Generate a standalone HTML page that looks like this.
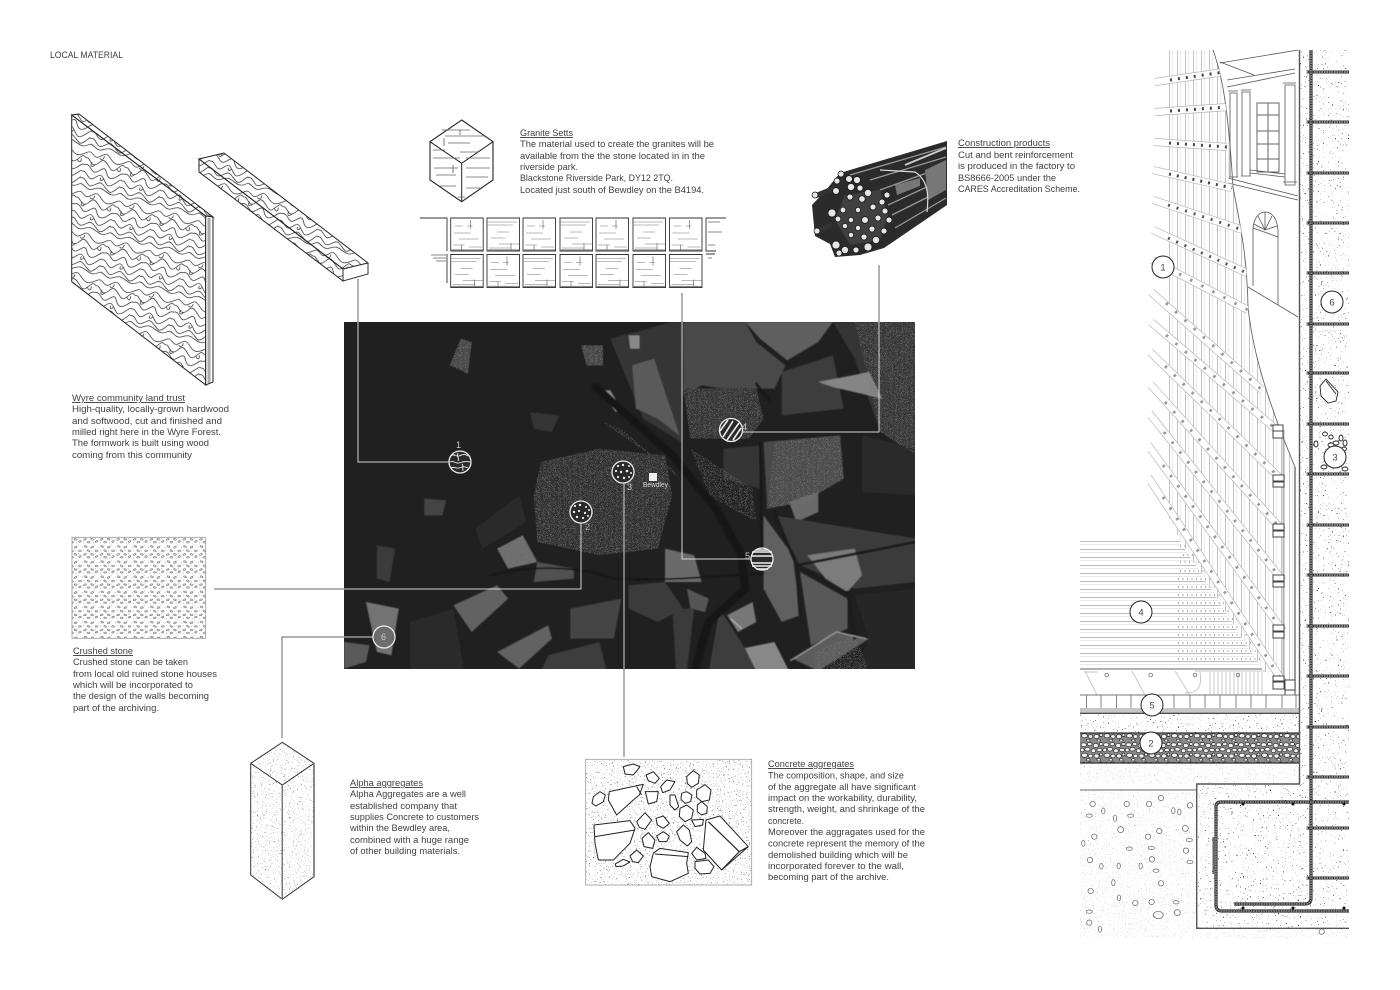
<!DOCTYPE html>
<html><head><meta charset="utf-8"><title>Local material</title>
<style>
html,body{margin:0;padding:0;background:#fff}
svg{display:block}
text{font-family:"Liberation Sans",Arial,sans-serif;font-size:9.4px;fill:#404040}
.h{text-decoration:underline}
</style></head><body>
<svg width="1400" height="990" viewBox="0 0 1400 990" xmlns="http://www.w3.org/2000/svg">
<defs>
<filter id="st" x="0" y="0" width="100%" height="100%" color-interpolation-filters="sRGB"><feTurbulence type="fractalNoise" baseFrequency=".75" numOctaves="2" seed="4"/><feColorMatrix values="0 0 0 0 0 0 0 0 0 0 0 0 0 0 0 16 0 0 0 -10.900"/><feComposite in2="SourceGraphic" operator="in"/></filter>
<filter id="st2" x="0" y="0" width="100%" height="100%" color-interpolation-filters="sRGB"><feTurbulence type="fractalNoise" baseFrequency=".6" numOctaves="2" seed="9"/><feColorMatrix values="0 0 0 0 0 0 0 0 0 0 0 0 0 0 0 18 0 0 0 -13"/><feComposite in2="SourceGraphic" operator="in"/></filter>
<filter id="sp" x="0" y="0" width="100%" height="100%" color-interpolation-filters="sRGB"><feTurbulence type="fractalNoise" baseFrequency=".8 .9" numOctaves="2" seed="12"/><feColorMatrix values="0 0 0 0 1 0 0 0 0 1 0 0 0 0 1 7 0 0 0 -3.800"/><feComposite in="SourceGraphic" operator="in"/></filter>
<filter id="bl" x="-5%" y="-5%" width="110%" height="110%"><feGaussianBlur stdDeviation="1.800"/></filter>
<pattern id="wood" width="70" height="70" patternUnits="userSpaceOnUse" patternTransform="rotate(14) scale(.58)">
<g fill="none" stroke="#222" stroke-width="1.200">
<path d="M0 8C8 2 12 16 20 12S30-2 40 8 55 20 70 8"/>
<path d="M0 18C6 14 10 30 18 26S26 10 36 18 48 34 56 24 64 14 70 18"/>
<path d="M0 30C10 24 14 42 22 38S34 22 40 34 52 44 60 36 66 30 70 30"/>
<path d="M0 42C6 38 12 56 20 50S30 36 38 46 48 60 58 50 66 40 70 42"/>
<path d="M0 54C8 48 12 68 22 62S32 50 42 58 54 70 62 60 68 52 70 54"/>
<path d="M0 64C6 60 14 74 24 68S36 62 46 66 60 72 70 64"/>
<path d="M18 26c-5 7-9 4-6-3M56 24c4 6 8 4 6-3M38 46c-3 6-7 5-5-1M30 8c0 6-4 8-7 5"/>
</g></pattern>
<pattern id="crush" width="23" height="21" patternUnits="userSpaceOnUse" patternTransform="scale(.72)">
<g fill="#fff" stroke="#666" stroke-width=".85">
<ellipse cx="4" cy="3" rx="2" ry="1" transform="rotate(20 4 3)"/><ellipse cx="13" cy="4" rx="2" ry="1" transform="rotate(-25 13 4)"/><ellipse cx="19" cy="9" rx="2" ry="1"/><ellipse cx="8" cy="9" rx="2" ry="1" transform="rotate(30 8 9)"/><ellipse cx="3" cy="14" rx="2" ry="1" transform="rotate(-20 3 14)"/><ellipse cx="13" cy="14" rx="2" ry="1" transform="rotate(15 13 14)"/><ellipse cx="19" cy="17" rx="1.800" ry="1" transform="rotate(-30 19 17)"/><ellipse cx="8" cy="18" rx="2" ry="1"/></g>
<path d="M1 8h1M16 1h1M22 4h1M12 9h1M17 13h1M1 19h1M14 19h1" stroke="#666" stroke-width=".8"/></pattern>
<pattern id="gravel" width="30" height="26" patternUnits="userSpaceOnUse" patternTransform="scale(.75)">
<rect width="30" height="26" fill="#8a8a8a"/>
<g fill="#f2f2f2" stroke="#222" stroke-width=".9">
<ellipse cx="5" cy="5" rx="3.600" ry="2.600"/><ellipse cx="13" cy="4" rx="3" ry="2.200"/><ellipse cx="21" cy="6" rx="3.400" ry="2.800"/><ellipse cx="28" cy="4" rx="2.400" ry="2"/><ellipse cx="3" cy="12" rx="2.600" ry="2.400"/><ellipse cx="10" cy="11" rx="3.500" ry="2.400"/><ellipse cx="18" cy="13" rx="3" ry="2.600"/><ellipse cx="26" cy="12" rx="3.400" ry="2.300"/><ellipse cx="6" cy="19" rx="4" ry="2.800"/><ellipse cx="14" cy="20" rx="3" ry="2.400"/><ellipse cx="22" cy="20" rx="3.400" ry="2.800"/><ellipse cx="28" cy="18" rx="2" ry="2"/><ellipse cx="11" cy="25" rx="2.400" ry="1.400"/><ellipse cx="25" cy="25" rx="2.400" ry="1.400"/></g></pattern>
<pattern id="boards" width="8" height="10" patternUnits="userSpaceOnUse" patternTransform="translate(1169 0)"><path d="M.5 0V10" stroke="#bdbdbd" stroke-width=".9"/><path d="M3.500 0V10" stroke="#e6e6e6" stroke-width=".8"/></pattern>
<pattern id="floor" width="10" height="8" patternUnits="userSpaceOnUse" patternTransform="translate(0 541)"><path d="M0 .5H10" stroke="#bcbcbc" stroke-width="1"/><path d="M0 3.400H10" stroke="#e2e2e2" stroke-width=".8"/></pattern>
<g id="sett"><path d="M0 0H32.500V33H0Z" fill="#fff" stroke="#333" stroke-width=".9"/><path d="M4 8H12M16 8H22M3 15H20M8 21H28M2 27H14M18 29H31" stroke="#777" stroke-width=".6" fill="none"/><path d="M0 32H32" stroke="#888" stroke-width="1.200"/><path d="M20 2V11M11 27V32" stroke="#555" stroke-width=".6"/></g>
<g id="sett2"><path d="M0 0H32.500V33H0Z" fill="#fff" stroke="#333" stroke-width=".9"/><path d="M0 4H30M0 7H26M10 14H22M4 20H18M12 26H32M2 30H24" stroke="#777" stroke-width=".6" fill="none"/><path d="M0 32H32" stroke="#888" stroke-width="1.200"/><path d="M24 25V32" stroke="#555" stroke-width=".6"/></g>
<clipPath id="mapc"><rect x="344" y="322" width="571" height="347"/></clipPath>
<clipPath id="bc"><path d="M1167 50H1213C1222 75 1228 105 1233 187C1240 225 1247 253 1248 307C1252 345 1263 390 1295 467V690H1287L1262 669L1180 540L1150 480V60Z"/></clipPath>
<clipPath id="bb"><path d="M1148 50H1213C1222 75 1228 105 1233 187C1240 225 1247 253 1248 307C1252 345 1263 390 1295 467V690H1262L1180 540L1148 490Z"/></clipPath>
</defs>
<rect width="1400" height="990" fill="#fff"/>

<!-- map -->
<g clip-path="url(#mapc)">
<rect x="344" y="322" width="571" height="347" fill="#202020"/>
<g transform="translate(344 322) scale(.3648 .3333)">
<g filter="url(#bl)">
<path d="M930 0H1100L1130 60L1210 130L1180 200H1040L980 190L930 220Z" fill="#484848"/>
<path d="M1100 0H1340L1300 60L1215 115L1140 50Z" fill="#5f5f5f"/>
<path d="M1200 150L1340 100L1370 260L1200 280Z" fill="#3d3d3d"/>
<path d="M1340 0H1568V400L1470 330L1400 110Z" fill="#343434"/>
<path d="M1300 180L1440 150L1475 230L1340 195Z" fill="#858585"/>
<path d="M730 50L900 0H930L925 360L820 290L760 130Z" fill="#363636"/>
<path d="M790 130L850 110L880 210L920 340L860 290L800 260Z" fill="#5a5a5a"/>
<path d="M700 205L730 205L760 260L745 270Z" fill="#8a8a8a"/>
<path d="M780 40L810 40L810 80L785 80Z" fill="#888"/>
<path d="M540 420L700 380L880 400L900 520L860 680L700 700L530 660L520 520Z" fill="#2e2e2e"/>
<path d="M930 200H1130L1150 290L1110 350L950 350Z" fill="#303030"/>
<path d="M1040 380L1140 370L1140 500L1040 470Z" fill="#343434"/>
<path d="M1150 360L1360 340L1370 470L1260 540L1160 560Z" fill="#484848"/>
<path d="M1220 540L1300 510L1300 570L1240 600Z" fill="#6a6a6a"/>
<path d="M1420 340L1568 380V520L1420 510Z" fill="#2b2b2b"/>
<path d="M1150 580L1230 700L1250 880L1200 900L1150 800Z" fill="#606060"/>
<path d="M1180 580L1568 650V780L1400 800L1250 730Z" fill="#3a3a3a"/>
<path d="M1270 700L1400 680L1420 760L1380 810L1320 770Z" fill="#7c7c7c"/>
<path d="M1250 750L1380 830L1380 920L1280 970Z" fill="#585858"/>
<path d="M1400 820L1568 800V1047H1400L1440 950Z" fill="#262626"/>
<path d="M1050 880L1120 840L1130 900L1080 930Z" fill="#777"/>
<path d="M1090 980L1180 960L1220 1047H1130Z" fill="#888"/>
<path d="M1230 1010L1350 930L1440 950L1300 1047Z" fill="#5c5c5c"/>
<path d="M1030 860L1100 980L1130 1047H1000Z" fill="#3e3e3e"/>
<path d="M940 800L1000 830L990 870L950 860Z" fill="#555"/>
<path d="M880 680L960 700L980 780L880 780Z" fill="#6a6a6a"/>
<path d="M780 790L880 780L930 860L860 900L780 860Z" fill="#3b3b3b"/>
<path d="M620 860L760 830L740 950L620 950Z" fill="#444"/>
<path d="M900 860H960L940 1047H910Z" fill="#3a3a3a"/>
<path d="M300 850L420 790L450 830L350 930Z" fill="#626262"/>
<path d="M420 990L560 910L570 950L480 1040Z" fill="#626262"/>
<path d="M420 680L490 640L530 720L450 740Z" fill="#6d6d6d"/>
<path d="M530 720L630 740L630 770L520 780Z" fill="#515151"/>
<path d="M60 840L150 860L130 1000L90 990Z" fill="#737373"/>
<path d="M0 960L70 970L60 1020L0 1040Z" fill="#5a5a5a"/>
<path d="M180 900L300 860L330 1047H180Z" fill="#2a2a2a"/>
<path d="M560 1000L700 960L720 1047H540Z" fill="#3c3c3c"/>
<path d="M290 130L320 50L350 60L340 155Z" fill="#444"/>
<path d="M650 70L710 70L710 130L665 130Z" fill="#444"/>
<path d="M510 270L590 280L570 330L520 320Z" fill="#363636"/>
<path d="M90 670L140 680L125 780L90 770Z" fill="#3a3a3a"/>
<path d="M220 530L280 535L270 580L220 580Z" fill="#444"/>
<path d="M360 620L480 520L500 600L380 680Z" fill="#2b2b2b"/>
<g fill="none" stroke-linecap="round">
<path d="M690 195L900 400L1020 560L1090 700L1100 800L1000 900L960 1047" stroke="#171717" stroke-width="22"/>
<path d="M400 760C500 730 640 730 740 770C860 780 1050 760 1150 755" stroke="#171717" stroke-width="5"/>
<path d="M1140 360L1145 680" stroke="#191919" stroke-width="5"/>
<path d="M1180 570L1240 730L1250 880M1240 730L1390 820M1240 730L1568 660M1380 810L1400 950" stroke="#1b1b1b" stroke-width="8"/>
<path d="M1225 1015L1350 930L1430 950" stroke="#999" stroke-width="4"/>
<path d="M1060 890L1090 920" stroke="#bbb" stroke-width="3"/>
<path d="M1168 240L1130 185" stroke="#161616" stroke-width="7"/>
</g>
</g>
<g filter="url(#sp)" fill="#7a7a7a">
<path d="M540 420L700 380L880 400L900 520L860 680L700 700L530 660L520 520Z"/>
<path d="M930 200H1130L1150 290L1110 350L950 350Z"/>
<path d="M950 380L1120 500L1130 600L1000 520Z"/>
<path d="M710 300L760 320L920 470L900 440L800 370Z"/>
<path d="M1400 0H1568V400L1470 330Z"/>
<path d="M1180 360L1360 340L1370 470L1260 540L1160 560Z"/>
<path d="M290 130L320 50L350 60L340 155Z"/>
<path d="M650 70L710 70L710 130L665 130Z"/>
<path d="M420 680L490 640L530 720L450 740Z"/>
<path d="M1290 990L1400 940L1440 1047H1290Z"/>
</g>
</g>
<g fill="none" stroke="#d5d5d5" stroke-width="1">
<path d="M358 322V462H449"/><path d="M344 589H581V523"/><path d="M624 483V669"/><path d="M879 322V432H743"/><path d="M682 322V559H751"/><path d="M344 637H373"/>
</g>
</g>
<g fill="none" stroke="#666" stroke-width="1">
<path d="M358 279V322"/><path d="M214 589H344"/><path d="M624 669V757"/><path d="M879 265V322"/><path d="M682 293V322"/><path d="M282 738V637H344"/>
</g>

<!-- map markers -->
<g stroke="#eee" stroke-width="1.300" fill="#2a2a2a">
<circle cx="460" cy="462" r="11"/><circle cx="581" cy="512" r="11"/><circle cx="623" cy="472" r="11"/><circle cx="731" cy="430" r="11.500"/><circle cx="762" cy="559" r="11"/><circle cx="384" cy="637" r="11" fill="#555" fill-opacity=".2"/>
</g>
<g fill="none" stroke="#eee" stroke-width=".9">
<path d="M451 456c3-3 5 1 8 0s5-3 9 0M450 462c4-2 6 2 9 1s6-2 11-1M451 468c3-2 5 1 8 0s5-2 9 0M458 453c-2 4 2 5 0 8M462 464c2 2 0 4 1 7"/>
<path d="M723 437L733 421M727 440L739 423M733 440L741 428M720 431L728 420" stroke-width="1.600"/>
<path d="M752 552H772M751 556H773M752 566H772M751 563H773M756 550H768M756 569H768" stroke-width="1.400"/>
</g>
<g fill="#eee">
<circle cx="575" cy="506" r="1.100"/><circle cx="580" cy="505" r="1.200"/><circle cx="586" cy="507" r="1"/><circle cx="574" cy="512" r="1.200"/><circle cx="579" cy="511" r="1.100"/><circle cx="585" cy="513" r="1.200"/><circle cx="589" cy="510" r="1"/><circle cx="577" cy="517" r="1.200"/><circle cx="583" cy="518" r="1.100"/><circle cx="588" cy="516" r="1"/>
<circle cx="618" cy="466" r="1.100"/><circle cx="623" cy="465" r="1.200"/><circle cx="629" cy="466" r="1"/><circle cx="616" cy="471" r="1.100"/><circle cx="621" cy="472" r="1.200"/><circle cx="627" cy="471" r="1.300"/><circle cx="631" cy="473" r="1"/><circle cx="618" cy="477" r="1.100"/><circle cx="624" cy="478" r="1.200"/><circle cx="629" cy="477" r="1"/>
<rect x="649" y="473" width="8" height="8"/>
</g>
<text x="456" y="448" style="font-size:9px;fill:#ccc">1</text>
<text x="585" y="530" style="font-size:9px;fill:#aaa">2</text>
<text x="627" y="490" style="font-size:9px;fill:#ccc">3</text>
<text x="742" y="430" style="font-size:9px;fill:#ccc">4</text>
<text x="745" y="559" style="font-size:9px;fill:#ccc">5</text>
<text x="381" y="640" style="font-size:9px;fill:#ccc">6</text>
<text x="643" y="487" textLength="25" lengthAdjust="spacingAndGlyphs" style="font-size:7px;fill:#ddd">Bewdley</text>

<!-- timber panel -->
<path d="M71.700 115L79 114L213 217L205.700 216Z" fill="url(#wood)" stroke="#222"/>
<path d="M71.700 115L205.700 216V385L71.700 281.700Z" fill="url(#wood)" stroke="#222"/>
<path d="M205.700 216L213 217V382L205.700 385Z" fill="#fff" stroke="#222"/>
<path d="M209 218V383" stroke="#aaa" stroke-width="3"/>
<path d="M199 159L224 153L368 263L343 269Z" fill="url(#wood)" stroke="#222"/>
<path d="M199 159V172L343 281V269Z" fill="url(#wood)" stroke="#222"/>
<path d="M343 269L368 263V274L343 281Z" fill="#fff" stroke="#333"/>

<!-- granite -->
<path d="M461.700 120L493 141.700V180L461.700 201.700L430 180V141.700Z" fill="#fff" stroke="#222" stroke-width="1.100"/>
<path d="M430 141.700L461.700 163.300L493 141.700M461.700 163.300V201.700" fill="none" stroke="#222" stroke-width="1"/>
<path d="M445 136H485M448 143H470M442 130H470M460 152H478M433 150H445M433 158H460M466 158H490M434 168H458M466 168H490M436 175H456M466 177H488M440 186H456M466 188H480M458 197H465" stroke="#666" stroke-width=".7"/>
<path d="M460 130V135M444 138V146M453 165V173" stroke="#444" stroke-width=".7"/>
<path d="M420 218H447V251M447 254V283M706 218H726M706 218V251H716M706 254H715" fill="none" stroke="#333" stroke-width=".9"/>
<path d="M431 255H446M433 258H446M436 261H446M708 222H720M708 232H722M708 245H715M708 258H712" stroke="#888" stroke-width="1"/>
<use href="#sett" x="450.700" y="218"/><use href="#sett2" x="487" y="218"/><use href="#sett" x="523" y="218"/><use href="#sett2" x="560" y="218"/><use href="#sett" x="596" y="218"/><use href="#sett2" x="633" y="218"/><use href="#sett" x="669.500" y="218"/>
<use href="#sett2" x="450.700" y="254.500"/><use href="#sett" x="487" y="254.500"/><use href="#sett2" x="523" y="254.500"/><use href="#sett" x="560" y="254.500"/><use href="#sett2" x="596" y="254.500"/><use href="#sett" x="633" y="254.500"/><use href="#sett2" x="669.500" y="254.500"/>

<!-- rebar bundle -->
<path d="M840 173L947 141V205L884 248L860 255L835 257L830 244L815 236L812 205L826 190Z" fill="#2b2b2b"/>
<g stroke="#999" stroke-width="1.300" fill="none"><path d="M850 175L946 147M870 180L946 157M880 190L946 166M888 205L946 178M892 215L946 188M895 228L946 198"/></g>
<path d="M925 170L946 160L946 190L928 200ZM895 185L920 178L920 186L897 195Z" fill="#777"/>
<path d="M880 170L915 172C928 180 929 195 927 212" fill="none" stroke="#ddd" stroke-width="1.200"/>
<path d="M905 165L946 148" stroke="#ccc" stroke-width="2"/>
<path d="M815 196L835 188M817 232L832 224" stroke="#333" stroke-width="5"/>
<path d="M845 195L880 190L888 215L880 240L850 245L835 220Z" fill="#404040"/>
<g fill="#e6e6e6" stroke="#111" stroke-width=".7">
<circle cx="815" cy="195" r="3"/><circle cx="817" cy="231" r="3"/><circle cx="841" cy="174" r="3"/><circle cx="837" cy="181" r="3"/><circle cx="849" cy="179" r="3.400"/><circle cx="857" cy="180" r="3.500"/><circle cx="836" cy="191" r="3.400"/><circle cx="851" cy="187" r="3.600"/><circle cx="860" cy="188" r="3"/><circle cx="868" cy="193" r="3.600"/><circle cx="887" cy="195" r="3"/><circle cx="850" cy="197" r="3"/><circle cx="862" cy="199" r="3.200"/><circle cx="882" cy="202" r="3"/><circle cx="832" cy="213" r="4"/><circle cx="843" cy="210" r="2.800"/><circle cx="858" cy="210" r="2.600"/><circle cx="873" cy="207" r="3"/><circle cx="885" cy="211" r="3"/><circle cx="838" cy="219" r="2.800"/><circle cx="851" cy="220" r="2.600"/><circle cx="865" cy="220" r="3.400"/><circle cx="878" cy="218" r="3"/><circle cx="889" cy="220" r="3"/><circle cx="845" cy="226" r="2.600"/><circle cx="858" cy="228" r="2.600"/><circle cx="872" cy="229" r="3"/><circle cx="884" cy="231" r="3"/><circle cx="851" cy="235" r="2.600"/><circle cx="864" cy="237" r="3"/><circle cx="876" cy="240" r="3.600"/><circle cx="836" cy="245" r="4"/><circle cx="845" cy="250" r="3.600"/><circle cx="856" cy="250" r="3"/><circle cx="868" cy="247" r="4"/><circle cx="839" cy="253" r="3"/></g>

<!-- crushed stone -->
<rect x="72" y="537.300" width="133.700" height="101" fill="url(#crush)" stroke="#999" stroke-width=".8"/>

<!-- concrete aggregates -->
<rect x="585.700" y="759.300" width="166" height="125.700" fill="#fff" stroke="#999" stroke-width=".8"/>
<rect x="586" y="760" width="165" height="125" fill="#222" filter="url(#st)" opacity=".65"/>
<g transform="translate(580 750) scale(.3333)" fill="#fff" stroke="#222" stroke-width="3" stroke-linejoin="round">
<path d="M88 125L190 103L178 135L160 150L110 195L85 150Z"/><path d="M170 110L185 135" fill="none"/>
<path d="M42 225L150 212L165 235L150 280L100 330L55 330L45 280Z"/><path d="M45 260L165 240" fill="none"/>
<path d="M220 310L240 295L325 308L320 340L325 370L270 395L215 380L210 350Z"/><path d="M225 312L325 320" fill="none"/>
<path d="M378 210L420 198L505 290L425 360L370 300Z"/><path d="M385 215L478 305L425 360M478 305L505 290" fill="none" stroke-width="3.500"/>
<path d="M130 50L160 42L180 50L160 75L135 72Z"/><path d="M198 75L220 65L238 85L225 100L205 92Z"/><path d="M320 80L340 62L358 75L355 100L335 112L322 100Z"/><path d="M242 110L260 90L285 95L270 120L248 128Z"/><path d="M40 140L60 125L76 135L70 155L48 168L36 160Z"/><path d="M196 125H235L230 155L205 162Z"/><path d="M270 135L285 135L296 170L285 180L270 165Z"/><path d="M305 130L320 125L336 135L332 155L315 160L303 148Z"/><path d="M350 120L375 104L393 120L388 150L365 155L350 142Z"/><path d="M300 175L320 165L340 180L335 205L315 215L298 200Z"/><path d="M352 165L365 155L382 170L380 190L365 195L352 185Z"/><path d="M170 215L195 188L215 210L195 238L178 232Z"/><path d="M228 205L250 198L268 220L250 235L232 225Z"/><path d="M335 210L370 208L368 225L345 230Z"/><path d="M290 245L310 225L328 240L335 275L322 288L300 270Z"/><path d="M186 265L205 248L225 270L218 295L192 290Z"/><path d="M230 258L250 245L268 258L260 275L238 275Z"/><path d="M150 318L170 300L190 318L175 338L158 335Z"/><path d="M106 342L130 328L150 336L130 348L108 350Z"/><path d="M335 310L350 292L375 310L378 325L350 330Z"/><path d="M345 335L385 330L402 350L390 370L360 372L345 355Z"/>
</g>

<!-- alpha column -->
<path d="M282.300 742.300L314 763.300V876.700L282.300 899.300L250.700 875V763.300Z" fill="#fff"/>
<rect x="251" y="743" width="63" height="156" fill="#555" filter="url(#st)" opacity=".55" clip-path="polygon(50% 0,100% 13%,100% 85%,50% 100%,0 85%,0 13%)"/>
<path d="M282.300 742.300L314 763.300V876.700L282.300 899.300L250.700 875V763.300ZM250.700 763.300L282.300 785L314 763.300M282.300 785V899.300" fill="none" stroke="#333" stroke-width="1"/>
<path d="M314 763.300V876.700" stroke="#888" stroke-width="2"/>
<path d="M282.300 785V899.300" stroke="#777" stroke-width="1.400"/>

<!-- right section: building -->
<g fill="none" stroke="#555" stroke-width=".8">
<path d="M1220 63L1298 50M1227 80L1295 69M1227 87L1295 73M1220 62L1254 75"/>
<path d="M1230 93H1237V177H1230ZM1242 92H1250V176H1242ZM1285 85H1295V185H1285ZM1228 91H1238M1241 90H1251M1283 83H1296M1229 177H1238M1241 176H1251M1283 182H1297"/>
<path d="M1257 103H1279V172H1257ZM1268 103V172M1257 115H1279M1257 131H1279M1257 144H1279M1257 159H1279" stroke="#666" stroke-width="1"/>
<path d="M1250 170L1285 174M1250 173L1285 177M1228 178L1298 196M1228 183L1298 200"/>
<path d="M1253 286V228C1254 218 1259 212 1265 212C1272 212 1277 218 1278 230V305M1253 228L1278 237M1265 212V230M1258 216L1265 230L1272 216M1254 224L1265 230L1277 226"/>
<path d="M1248 287L1298 317"/>
</g>
<rect x="1169" y="50" width="130" height="640" fill="url(#boards)" clip-path="url(#bc)"/>
<path d="M1295 467V690" stroke="#555" stroke-width="1.200"/>
<path d="M1283.500 430V682" stroke="#b5b5b5" stroke-width="2"/>
<path d="M1213 50C1222 75 1228 105 1233 187C1240 225 1247 253 1248 307C1252 345 1263 390 1295 467" fill="none" stroke="#666" stroke-width=".9"/>

<!-- floor -->
<path d="M1080 541H1180L1261.700 669H1080Z" fill="url(#floor)"/>
<g stroke="#b0b0b0"><path d="M1180 546H1190M1183 555H1198M1180 562H1203M1180 571H1210M1178 579H1215M1178 587H1220M1178 595H1226M1178 603H1232M1178 611H1237M1178 619H1242M1178 627H1246M1178 635H1250M1178 643H1254M1178 651H1258M1178 659H1260" stroke-dasharray="1 3.500" stroke-width="2"/></g>
<path d="M1080 669H1262" stroke="#666" stroke-width="1.100"/>
<g fill="none" stroke="#c4c4c4" stroke-width=".9"><path d="M1085 671L1097 695M1132 671L1145 695M1175 671L1190 695M1084 672H1098M1200 672C1203 690 1195 693 1185 693M1195 671H1266M1210 672V695M1214 672V695M1218 672V695M1222 672V695M1226 672V695M1230 672V695M1234 672V695M1238 672V695M1242 672V695M1246 672V695M1250 672V695M1254 672V695M1258 672V695M1262 672V695"/></g>
<g fill="none" stroke="#555" stroke-width=".7"><circle cx="1106.700" cy="675" r="1.800"/><circle cx="1150.700" cy="675" r="1.800"/><circle cx="1195" cy="675" r="1.800"/><circle cx="1238" cy="675" r="1.800"/></g>

<!-- battens -->
<g fill="none" clip-path="url(#bb)">
<g stroke="#b5b5b5" stroke-width="8">
<path d="M1155 82L1224 72M1155 112L1228 107M1154 142L1227 147M1153 170L1232 188M1153 200L1243 230M1153 230L1247 273M1152 260L1248 310M1151 292L1262 390M1151 322L1278 431M1150 352L1283 481M1150 384L1283 531M1149 413L1283 581M1148 445L1283 631M1148 477L1283 682"/>
</g>
<g stroke="#fff" stroke-width="6.600">
<path d="M1155 82L1224 72M1155 112L1228 107M1154 142L1227 147M1153 170L1232 188M1153 200L1243 230M1153 230L1247 273M1152 260L1248 310M1151 292L1262 390M1151 322L1278 431M1150 352L1283 481M1150 384L1283 531M1149 413L1283 581M1148 445L1283 631M1148 477L1283 682"/>
</g>
<g stroke="#444" stroke-width="3" stroke-dasharray="2 6">
<path d="M1170 80L1224 72"/><path d="M1170 111L1228 107"/><path d="M1169 143L1227 147"/><path d="M1169 174L1232 188"/>
</g>
<g stroke="#555" stroke-width="3" stroke-dasharray="2 7">
<path d="M1168 205L1243 230M1168 238L1247 273"/>
</g>
<g stroke="#999" stroke-width="3" stroke-dasharray="2.500 10">
<path d="M1168 268L1248 310M1166 303L1262 390M1166 335L1278 431M1165 366L1283 481M1165 402L1283 531M1164 432L1283 581M1163 465L1283 631M1163 497L1283 682"/>
</g>
</g>
<!-- anchors -->
<g fill="#fff" stroke="#444" stroke-width="1"><path d="M1273 425H1283V431H1273ZM1273 431H1283V438H1273ZM1273 475H1284V481H1273ZM1273 482H1284V487H1273ZM1273 524H1284V530H1273ZM1273 531H1284V537H1273ZM1273 575H1284V581H1273ZM1273 582H1284V587H1273ZM1273 625H1284V631H1273ZM1273 632H1284V638H1273ZM1273 676H1284V681H1273ZM1273 682H1284V689H1273Z"/><path d="M1285 680H1295V690H1285ZM1285 690H1295V695H1285Z"/></g>

<!-- ground layers -->
<rect x="1080" y="695" width="219" height="13" fill="#fff"/>
<path d="M1086.500 695V708M1101 695V708M1116.500 695V708M1131 695V708M1146 695V708M1174 695V708M1190 695V708M1205 695V708M1220 695V708M1236 695V708M1251 695V708M1266 695V708M1282 695V708M1296 695V708M1080 695H1299" stroke="#777" stroke-width=".9"/>
<rect x="1080" y="708" width="219" height="5" fill="#c6c6c6"/>
<path d="M1080 713.300H1299" stroke="#333" stroke-width="1.200"/>
<rect x="1080" y="714" width="219" height="19" fill="#333" filter="url(#st2)"/>
<rect x="1080" y="733" width="219" height="30" fill="url(#gravel)"/>
<path d="M1080 733H1299M1080 763H1299" stroke="#333" stroke-width="1.200"/>
<rect x="1080" y="764" width="219" height="20" fill="#888" filter="url(#st)" opacity=".3"/>
<path d="M1080 790H1196.700" stroke="#666" stroke-width="1.100"/>
<rect x="1080" y="791" width="116" height="147" fill="#888" filter="url(#st)" opacity=".28"/>
<rect x="1197" y="785" width="152" height="143" fill="#111" filter="url(#st2)"/>
<rect x="1300" y="50" width="49" height="735" fill="#111" filter="url(#st2)"/>
<rect x="1197" y="929" width="152" height="9" fill="#888" filter="url(#st)" opacity=".3"/>
<path d="M1299.500 50V784H1196.700V928.300H1349" fill="none" stroke="#555" stroke-width="1.400"/>
<g fill="none" stroke="#666" stroke-width="2.200" transform="translate(1080 680) scale(.3333)"><circle cx="38" cy="372" r="8"/><circle cx="140" cy="372" r="8"/><circle cx="207" cy="372" r="8"/><circle cx="243" cy="354" r="8"/><circle cx="330" cy="376" r="8"/><ellipse cx="28" cy="407" rx="9" ry="5"/><ellipse cx="70" cy="393" rx="5" ry="9"/><ellipse cx="105" cy="415" rx="5" ry="9"/><ellipse cx="152" cy="407" rx="9" ry="5"/><circle cx="122" cy="449" r="9"/><circle cx="43" cy="470" r="8"/><circle cx="204" cy="470" r="8"/><circle cx="238" cy="453" r="8"/><circle cx="316" cy="445" r="9"/><ellipse cx="328" cy="480" rx="9" ry="5"/><ellipse cx="10" cy="490" rx="5" ry="9"/><ellipse cx="148" cy="506" rx="9" ry="5"/><ellipse cx="214" cy="504" rx="9" ry="5"/><circle cx="318" cy="512" r="8"/><circle cx="30" cy="540" r="8"/><ellipse cx="64" cy="559" rx="5" ry="9"/><ellipse cx="116" cy="558" rx="5" ry="9"/><ellipse cx="182" cy="558" rx="5" ry="9"/><circle cx="216" cy="538" r="8"/><ellipse cx="330" cy="546" rx="9" ry="5"/><ellipse cx="228" cy="572" rx="9" ry="5"/><ellipse cx="100" cy="608" rx="5" ry="9"/><circle cx="243" cy="610" r="8"/><circle cx="32" cy="633" r="8"/><ellipse cx="117" cy="654" rx="5" ry="9"/><circle cx="166" cy="669" r="8"/><circle cx="215" cy="666" r="8"/><ellipse cx="288" cy="667" rx="9" ry="5"/><ellipse cx="235" cy="705" rx="15" ry="11"/><circle cx="292" cy="698" r="9"/><ellipse cx="28" cy="695" rx="9" ry="5"/><circle cx="28" cy="728" r="8"/><ellipse cx="60" cy="748" rx="5" ry="9"/><ellipse cx="280" cy="392" rx="5" ry="9"/><ellipse cx="298" cy="396" rx="5" ry="9"/><circle cx="725" cy="755" r="8"/></g>

<!-- rebar -->
<g fill="none" stroke-linejoin="round">
<path d="M1306.500 72H1349M1306.500 122H1349M1306.500 173H1349M1306.500 223H1349M1306.500 273H1349M1306.500 324H1349M1306.500 373H1349M1306.500 424H1349M1306.500 474H1349M1306.500 525H1349M1306.500 575H1349M1306.500 626H1349M1306.500 676H1349M1306.500 727H1349M1306.500 777H1349M1306.500 828H1349M1306.500 878H1349" stroke="#333" stroke-width="3"/>
<path d="M1306.500 72H1349M1306.500 122H1349M1306.500 173H1349M1306.500 223H1349M1306.500 273H1349M1306.500 324H1349M1306.500 373H1349M1306.500 424H1349M1306.500 474H1349M1306.500 525H1349M1306.500 575H1349M1306.500 626H1349M1306.500 676H1349M1306.500 727H1349M1306.500 777H1349M1306.500 828H1349M1306.500 878H1349" stroke="#bbb" stroke-width="1.300" stroke-dasharray="1.500 1"/>
<path d="M1311 50V898Q1311 904 1305 904H1234" stroke="#333" stroke-width="3.200"/>
<path d="M1311 50V898Q1311 904 1305 904H1234" stroke="#aaa" stroke-width="1.300" stroke-dasharray="1.500 1"/>
<path d="M1349 802H1221Q1216 802 1216 807V905Q1216 911 1222 911H1349" stroke="#333" stroke-width="3.200"/>
<path d="M1349 802H1221Q1216 802 1216 807V905Q1216 911 1222 911H1349" stroke="#aaa" stroke-width="1.300" stroke-dasharray="1.500 1"/>
<path d="M1214 837V874" stroke="#666" stroke-width="3"/>
</g>
<g fill="#111"><circle cx="1243" cy="804" r="1.500"/><circle cx="1293" cy="804" r="1.500"/><circle cx="1344" cy="804" r="1.500"/><circle cx="1243" cy="908" r="1.500"/><circle cx="1293" cy="908" r="1.500"/><circle cx="1344" cy="908" r="1.500"/></g>

<!-- stones in wall -->
<g fill="#fff" stroke="#222" stroke-width=".9">
<path d="M1320 386L1326 379L1338 392L1336 401L1328 403L1321 396Z"/><path d="M1326 381L1336 394" fill="none"/>
<ellipse cx="1325" cy="434" rx="2.400" ry="2"/><ellipse cx="1331" cy="437" rx="2.200" ry="2"/><ellipse cx="1341" cy="438" rx="2" ry="3"/><ellipse cx="1345" cy="443" rx="2" ry="3"/><ellipse cx="1336" cy="443" rx="3" ry="2"/><ellipse cx="1331" cy="445" rx="3" ry="2"/><ellipse cx="1344" cy="449" rx="2.500" ry="2"/><ellipse cx="1316" cy="444" rx="2" ry="3"/><ellipse cx="1345" cy="469" rx="3" ry="2"/><ellipse cx="1324" cy="467" rx="3" ry="2"/>
</g>

<!-- right circles -->
<g fill="#fff" stroke="#222" stroke-width="1">
<circle cx="1163" cy="267" r="11"/><circle cx="1332" cy="302" r="11"/><circle cx="1335" cy="457" r="11"/><circle cx="1141" cy="612" r="11"/><circle cx="1152" cy="705" r="11"/><circle cx="1151" cy="743" r="11"/>
</g>
<g text-anchor="middle">
<text x="1163" y="270.500" style="font-size:9.500px;fill:#444">1</text>
<text x="1332" y="305.500" style="font-size:9.500px;fill:#444">6</text>
<text x="1335" y="460.500" style="font-size:9.500px;fill:#444">3</text>
<text x="1141" y="615.500" style="font-size:9.500px;fill:#444">4</text>
<text x="1152" y="708.500" style="font-size:9.500px;fill:#444">5</text>
<text x="1151" y="746.500" style="font-size:9.500px;fill:#444">2</text>
</g>

<!-- text -->
<text x="50" y="58" textLength="73" lengthAdjust="spacingAndGlyphs">LOCAL MATERIAL</text>

<text class="h" x="520" y="136" textLength="53" lengthAdjust="spacingAndGlyphs">Granite Setts</text>
<text x="520" y="147" textLength="194" lengthAdjust="spacingAndGlyphs">The material used to create the granites will be</text>
<text x="520" y="159" textLength="185" lengthAdjust="spacingAndGlyphs">available from the the stone located in in the</text>
<text x="520" y="170" textLength="58" lengthAdjust="spacingAndGlyphs">riverside park.</text>
<text x="520" y="181" textLength="153" lengthAdjust="spacingAndGlyphs">Blackstone Riverside Park, DY12 2TQ.</text>
<text x="520" y="193" textLength="184" lengthAdjust="spacingAndGlyphs">Located just south of Bewdley on the B4194.</text>

<text class="h" x="958" y="146" textLength="92" lengthAdjust="spacingAndGlyphs">Construction products</text>
<text x="958" y="158" textLength="115" lengthAdjust="spacingAndGlyphs">Cut and bent reinforcement</text>
<text x="958" y="169" textLength="117" lengthAdjust="spacingAndGlyphs">is produced in the factory to</text>
<text x="958" y="181" textLength="98" lengthAdjust="spacingAndGlyphs">BS8666-2005 under the</text>
<text x="958" y="192" textLength="122" lengthAdjust="spacingAndGlyphs">CARES Accreditation Scheme.</text>

<text class="h" x="72" y="401" textLength="113" lengthAdjust="spacingAndGlyphs">Wyre community land trust</text>
<text x="72" y="412" textLength="157" lengthAdjust="spacingAndGlyphs">High-quality, locally-grown hardwood</text>
<text x="72" y="424" textLength="150" lengthAdjust="spacingAndGlyphs">and softwood, cut and finished and</text>
<text x="72" y="435" textLength="149" lengthAdjust="spacingAndGlyphs">milled right here in the Wyre Forest.</text>
<text x="72" y="446" textLength="137" lengthAdjust="spacingAndGlyphs">The formwork is built using wood</text>
<text x="72" y="458" textLength="120" lengthAdjust="spacingAndGlyphs">coming from this community</text>

<text class="h" x="73" y="654" textLength="60" lengthAdjust="spacingAndGlyphs">Crushed stone</text>
<text x="73" y="665" textLength="115" lengthAdjust="spacingAndGlyphs">Crushed stone can be taken</text>
<text x="73" y="677" textLength="144" lengthAdjust="spacingAndGlyphs">from local old ruined stone houses</text>
<text x="73" y="688" textLength="120" lengthAdjust="spacingAndGlyphs">which will be incorporated to</text>
<text x="73" y="699" textLength="136" lengthAdjust="spacingAndGlyphs">the design of the walls becoming</text>
<text x="73" y="711" textLength="86" lengthAdjust="spacingAndGlyphs">part of the archiving.</text>

<text class="h" x="350" y="786" textLength="73" lengthAdjust="spacingAndGlyphs">Alpha aggregates</text>
<text x="350" y="797" textLength="116" lengthAdjust="spacingAndGlyphs">Alpha Aggregates are a well</text>
<text x="350" y="809" textLength="107" lengthAdjust="spacingAndGlyphs">established company that</text>
<text x="350" y="820" textLength="129" lengthAdjust="spacingAndGlyphs">supplies Concrete to customers</text>
<text x="350" y="831" textLength="100" lengthAdjust="spacingAndGlyphs">within the Bewdley area,</text>
<text x="350" y="843" textLength="119" lengthAdjust="spacingAndGlyphs">combined with a huge range</text>
<text x="350" y="854" textLength="110" lengthAdjust="spacingAndGlyphs">of other building materials.</text>

<text class="h" x="768" y="767" textLength="86" lengthAdjust="spacingAndGlyphs">Concrete aggregates</text>
<text x="768" y="778.500" textLength="136" lengthAdjust="spacingAndGlyphs">The composition, shape, and size</text>
<text x="768" y="790" textLength="148" lengthAdjust="spacingAndGlyphs">of the aggregate all have significant</text>
<text x="768" y="801" textLength="149" lengthAdjust="spacingAndGlyphs">impact on the workability, durability,</text>
<text x="768" y="812" textLength="157" lengthAdjust="spacingAndGlyphs">strength, weight, and shrinkage of the</text>
<text x="768" y="824" textLength="36" lengthAdjust="spacingAndGlyphs">concrete.</text>
<text x="768" y="835" textLength="157" lengthAdjust="spacingAndGlyphs">Moreover the aggragates used for the</text>
<text x="768" y="846.500" textLength="157" lengthAdjust="spacingAndGlyphs">concrete represent the memory of the</text>
<text x="768" y="858" textLength="140" lengthAdjust="spacingAndGlyphs">demolished building which will be</text>
<text x="768" y="869" textLength="136" lengthAdjust="spacingAndGlyphs">incorporated forever to the wall,</text>
<text x="768" y="880" textLength="121" lengthAdjust="spacingAndGlyphs">becoming part of the archive.</text>
</svg>
</body></html>
